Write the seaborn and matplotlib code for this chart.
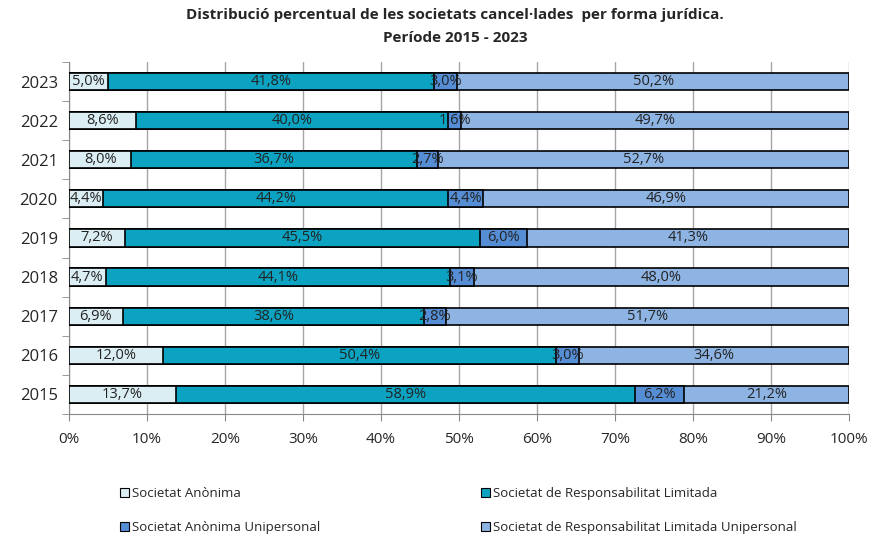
import numpy as np
import pandas as pd
import matplotlib
matplotlib.use('Agg')
import matplotlib.pyplot as plt
import seaborn as sns
from matplotlib.patches import Patch

years = ['2023', '2022', '2021', '2020', '2019', '2018', '2017', '2016', '2015']
sa = [5.0, 8.6, 8.0, 4.4, 7.2, 4.7, 6.9, 12.0, 13.7]
srl = [41.8, 40.0, 36.7, 44.2, 45.5, 44.1, 38.6, 50.4, 58.9]
sau = [3.0, 1.6, 2.7, 4.4, 6.0, 3.1, 2.8, 3.0, 6.2]
srlu = [50.2, 49.7, 52.7, 46.9, 41.3, 48.0, 51.7, 34.6, 21.2]
series = ['Societat Anònima', 'Societat de Responsabilitat Limitada',
          'Societat Anònima Unipersonal', 'Societat de Responsabilitat Limitada Unipersonal']
colors = ['#DBEEF4', '#0BA3C1', '#558ED5', '#8EB4E3']

sns.set_style('white')
plt.rcParams['font.family'] = ['Open Sans', 'DejaVu Sans']

df = pd.DataFrame({'year': years, 'sa': sa, 'srl': srl, 'sau': sau, 'srlu': srlu})
cols = ['sa', 'srl', 'sau', 'srlu']
cum = df[cols].cumsum(axis=1)
# normalise so every bar fills 100%
cum = cum.div(cum['srlu'], axis=0) * 100

fig = plt.figure(figsize=(8.72, 5.41), dpi=100)
ax = fig.add_axes([0.0791, 0.2348, 0.8945, 0.6506])

# stacked bars drawn as overlapping cumulative bars, widest first
for c, col in reversed(list(zip(cols, colors))):
    sns.barplot(x=cum[c], y=df['year'], orient='h', color=col, width=0.44,
                edgecolor='black', linewidth=1.2, saturation=1, ax=ax, zorder=3)

for i in range(len(years)):
    left = 0
    for c in cols:
        right = cum.loc[i, c]
        val = df.loc[i, c]
        ax.text((left + right) / 2, i, f'{val:.1f}%'.replace('.', ','),
                ha='center', va='center', fontsize=10.5, color='#222222', zorder=5)
        left = right

ax.set_xlim(0, 100)
ax.set_ylim(len(years) - 0.5, -0.5)
ax.set_xticks(np.arange(0, 101, 10))
ax.set_xticklabels([f'{v}%' for v in range(0, 101, 10)], fontsize=11)
ax.set_yticks(range(len(years)))
ax.set_yticklabels(years, fontsize=12)
ax.set_yticks(np.arange(-0.5, len(years), 1), minor=True)
ax.tick_params(axis='y', which='major', length=0, pad=8)
ax.tick_params(axis='y', which='minor', length=5, color='#888888', direction='out', left=True)
ax.tick_params(axis='x', length=5, color='#888888', direction='out', bottom=True, pad=8)
ax.set_xlabel('')
ax.set_ylabel('')
ax.grid(axis='x', color='#A6A6A6', linewidth=1, zorder=0)
ax.set_axisbelow(True)
for s in ['top', 'right']:
    ax.spines[s].set_visible(False)
for s in ['left', 'bottom']:
    ax.spines[s].set_color('#888888')

fig.text(0.522, 0.972, 'Distribució percentual de les societats cancel·lades  per forma jurídica.',
         ha='center', va='center', fontsize=11, fontweight='bold')
fig.text(0.522, 0.930, 'Període 2015 - 2023', ha='center', va='center', fontsize=11, fontweight='bold')

handles = [Patch(facecolor=col, edgecolor='black', linewidth=0.8) for col in colors]
order = [0, 2, 1, 3]
fig.legend([handles[k] for k in order], [series[k] for k in order], ncol=2,
           loc='upper left', bbox_to_anchor=(0.124, 0.122), frameon=False,
           fontsize=9.5, handlelength=0.7, handleheight=0.7, handletextpad=0.2,
           columnspacing=12.2, labelspacing=1.62)

fig.savefig('out.png', dpi=100)
